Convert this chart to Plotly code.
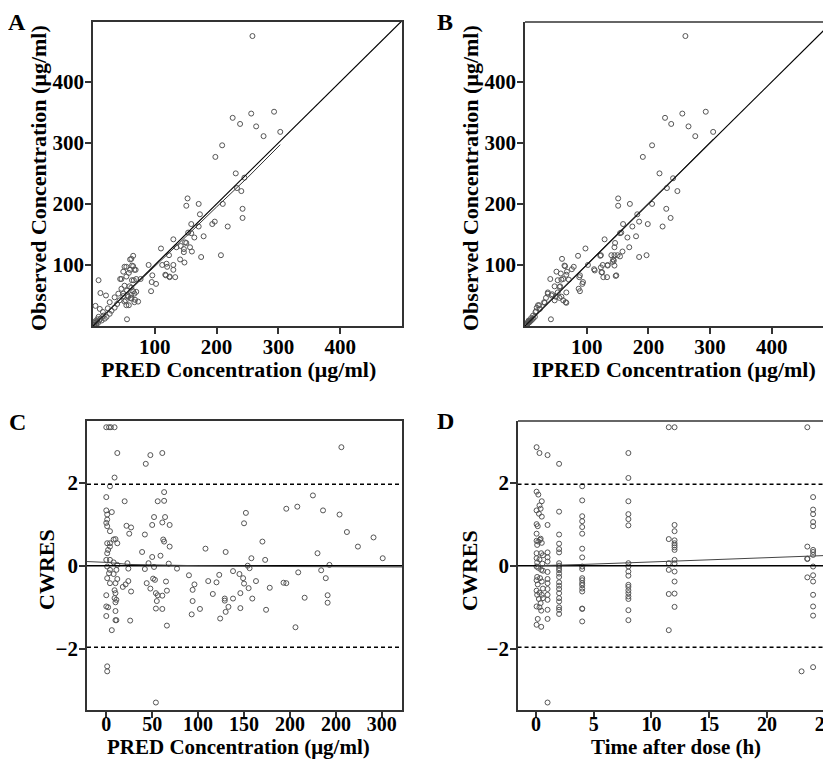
import plotly.graph_objects as go

# page has an 8px body margin, so the figure is drawn 8px in from the top-left
OFF = 8
FW, FH = 831 - OFF, 759 - OFF

# ---- panel A : observed vs PRED
pred_a = [258, 293, 256, 226, 238, 264, 303, 276, 209, 198, 231, 245, 233, 240, 153, 171, 210, 151, 242, 173,
          242, 197, 159, 193, 218, 171, 154, 159, 179, 164, 130, 151, 157, 135, 147, 160, 175, 207, 110, 123,
          141, 148, 90, 112, 130, 120, 96, 130, 117, 124, 133, 95, 102, 94, 142, 147, 149, 119, 124, 118,
          65, 62, 60, 54, 65, 63, 51, 67, 60, 69, 49, 58, 46, 54, 44, 63, 66, 70, 77, 51,
          59, 62, 46, 55, 65, 70, 67, 41, 49, 56, 35, 49, 57, 61, 43, 53, 68, 67, 51, 73,
          54, 58, 9, 12, 21, 4, 27, 24, 55, 62, 62, 39, 11, 16, 27, 22, 30, 35, 19,
          2, 3, 5, 6, 8, 10, 4, 7, 12, 14, 9, 17, 1]
obs_a = [475, 351, 348, 341, 331, 327, 318, 311, 296, 277, 250, 243, 226, 221, 209, 200, 200, 197, 192, 183,
         177, 171, 167, 167, 163, 163, 153, 152, 147, 145, 142, 136, 129, 129, 121, 122, 113, 116, 127, 116,
         109, 104, 100, 100, 100, 97, 83, 92, 84, 80, 80, 72, 69, 57, 131, 126, 137, 102, 81, 83,
         115, 110, 109, 97, 98, 99, 97, 92, 92, 92, 89, 87, 77, 81, 77, 75, 75, 77, 77, 66,
         65, 63, 61, 58, 57, 56, 53, 53, 53, 50, 47, 49, 48, 46, 42, 42, 43, 39, 40, 40,
         34, 34, 75, 54, 50, 33, 39, 29, 11, 51, 45, 36, 28, 23, 20, 15, 25, 30, 12,
         2, 5, 3, 7, 5, 9, 8, 11, 12, 9, 15, 17, 1]
smooth_a_x = [2, 50, 100, 150, 200, 250, 303]
smooth_a_y = [3, 49, 97, 146, 195, 243, 297]

# ---- panel B : observed vs IPRED
ipred_b = [260, 293, 255, 227, 237, 265, 305, 276, 206, 191, 218, 240, 230, 247, 151, 170, 206, 151, 229, 182,
           236, 185, 159, 199, 223, 174, 156, 154, 180, 166, 129, 146, 169, 145, 98, 158, 145, 123, 197, 185,
           144, 145, 102, 126, 134, 113, 125, 148, 147, 133, 86, 89, 93, 89, 60, 64, 79, 51, 68, 41,
           59, 71, 88, 57, 48, 67, 53, 37, 43, 59, 48, 62, 67, 32, 42, 21, 24, 18, 13, 8,
           5, 65, 76, 58, 67, 53, 62, 94, 87, 56, 37, 44, 66, 50, 56, 34, 31, 23, 19, 17,
           112, 123, 124, 134, 127, 140, 143, 142, 150, 154, 122,
           2, 3, 5, 7, 9, 11, 6, 4, 13, 10, 16, 1]
obs_b = [475, 351, 348, 341, 331, 327, 318, 311, 296, 277, 250, 242, 226, 221, 209, 200, 200, 197, 192, 183,
         177, 171, 167, 167, 163, 163, 153, 152, 147, 145, 142, 136, 129, 129, 127, 122, 116, 116, 116, 113,
         107, 99, 100, 100, 100, 91, 88, 83, 82, 80, 115, 83, 69, 57, 110, 99, 97, 89, 89, 77,
         76, 76, 80, 65, 65, 55, 55, 53, 50, 48, 42, 42, 38, 38, 11, 34, 28, 24, 17, 9,
         7, 98, 93, 86, 84, 75, 77, 72, 61, 64, 55, 52, 39, 48, 46, 46, 39, 34, 30, 23,
         93, 96, 88, 99, 80, 116, 109, 105, 116, 114, 115,
         2, 4, 5, 6, 8, 10, 9, 3, 12, 13, 15, 1]
smooth_b_x = [2, 100, 200, 305]
smooth_b_y = [3, 101, 201, 306]

# ---- panel C : CWRES vs PRED
pred_c = [0, 3, 5, 9, 12, 43, 48, 61, 256, 9, 4, 0, 20, 56, 63, 63, 225, 0, 1, 6,
          1, 0, 1, 4, 22, 27, 25, 42, 52, 50, 61, 64, 69, 196, 208, 236, 254, 152, 150, 262,
          274, 291, 301, 170, 230, 108, 130, 173, 158, 243, 234, 239, 209, 193, 196, 216, 241, 241, 206, 163,
          178, 159, 155, 150, 149, 145, 138, 154, 156, 146, 138, 129, 129, 133, 130, 124, 146, 174, 123, 116,
          120, 111, 96, 94, 90, 94, 102, 93, 77, 68, 69, 62, 63, 59, 50, 39, 42, 46, 52, 51,
          44, 48, 53, 54, 56, 55, 61, 65, 66, 54, 61, 66, 54, 23, 24, 24, 21, 18, 27, 26,
          1, 1, 0, 0, 0, 2, 6, 10, 10, 11, 9, 10, 9, 11, 10, 4, 1, 3, 8, 11,
          12, 8, 4, 1, 2, 4, 4, 8, 10, 12, 1, 12, 10, 1, 0, 4]
cwres_c = [3.33, 3.33, 3.33, 3.33, 2.71, 2.45, 2.66, 2.71, 2.85, 2.12, 1.91, 1.65, 1.55, 1.55, 1.56, 1.77, 1.69, 1.33, 1.23, 1.29,
           1.11, 1.03, 0.95, 0.83, 0.96, 0.92, 0.77, 0.75, 1.17, 0.98, 1.04, 1.17, 0.98, 1.37, 1.42, 1.33, 1.23, 1.27, 1.02, 0.81,
           0.46, 0.68, 0.18, 0.58, 0.30, 0.41, 0.33, 0.14, 0.18, 0.02, -0.11, -0.30, -0.16, -0.41, -0.42, -0.77, -0.71, -0.89, -1.48, -0.37,
           -0.53, -0.79, -0.54, -0.43, -0.30, -0.20, -0.13, 0.0, -0.06, -0.66, -0.79, -0.79, -0.84, -0.99, -1.11, -1.27, -1.02, -1.06, -0.22, -0.68,
           -0.40, -0.37, -0.45, -0.58, -0.23, -0.85, -1.04, -1.17, -0.07, 0.05, 0.46, 0.63, 0.58, 0.24, 0.21, 0.33, -0.08, 0.06, -0.03, -0.31,
           -0.42, -0.55, -0.34, -0.66, -0.71, -0.85, -0.72, -0.38, -0.60, -1.03, -1.04, -1.44, -3.29, 0.06, -0.07, -0.37, -0.45, -0.51, -0.62, -1.32,
           -2.42, -2.54, -0.98, -1.21, -0.71, -1.0, -1.55, -1.09, -1.31, -1.31, -0.59, -0.66, -0.78, -0.82, -0.88, -0.42, -0.30, -0.18, -0.20, -0.10,
           0.02, 0.08, 0.14, 0.30, 0.38, 0.46, 0.54, 0.63, 0.64, 0.54, 0.54, -0.32, -0.42, -0.02, 0.14, -0.10]
smooth_c_x = [-21, 0, 25, 60, 100, 200, 322]
smooth_c_y = [0.10, 0.08, 0.03, 0.01, 0.0, -0.02, -0.03]

# ---- panel D : CWRES vs time after dose
time_d = [0.05, 0.3, 1.0, 2.0, 1.0,
          0.05, 0.2, 0.5, 0.3, 0.05, 0.4, 0.25, 0.5, 0.05, 0.15, 1.0, 0.05, 0.4, 0.05, 0.2,
          0.35, 0.1, 0.5, 0.05, 0.45, 0.6, 1.0, 0.05, 0.3, 1.0, 0.1, 0.55, 1.0, 0.05, 0.2,
          0.45, 0.6, 1.0, 0.1, 0.35, 1.0, 0.05, 0.5, 1.0, 0.15, 0.6, 1.0, 0.05, 0.3, 0.5,
          1.0, 0.1, 0.25, 0.6, 1.0, 0.4, 0.05, 0.3, 1.0, 0.45, 0.15, 1.0, 0.05, 0.45,
          2, 2, 2, 2, 2, 2, 2, 2, 2, 2, 2, 2, 2, 2, 2, 2, 2, 2, 2, 2,
          4, 4, 4, 4, 4, 4, 4, 4, 4, 4, 4, 4, 4, 4, 4, 4, 4, 4, 4,
          8, 8, 8, 8, 8, 8, 8, 8, 8, 8, 8, 8, 8, 8, 8, 8, 8, 8,
          11.5, 11.5, 11.5, 11.5, 11.5, 11.5,
          12, 12, 12, 12, 12, 12, 12, 12, 12, 12, 12, 12, 12, 12,
          23, 23.5, 23.5, 23.5, 23.5, 23.5,
          24, 24, 24, 24, 24, 24, 24, 24, 24, 24, 24, 24, 24, 24, 24]
cwres_d = [2.85, 2.71, 2.66, 2.45, -3.29,
           1.78, 1.71, 1.55, 1.45, 1.33, 1.37, 1.25, 1.18, 1.0, 0.95, 0.98, 0.77, 0.65, 0.6, 0.58,
           0.62, 0.5, 0.55, 0.3, 0.3, 0.25, 0.32, 0.18, 0.15, 0.2, 0.08, 0.05, 0.1, -0.02, -0.05,
           -0.1, -0.12, -0.15, -0.27, -0.3, -0.32, -0.35, -0.38, -0.42, -0.45, -0.55, -0.56, -0.6, -0.65, -0.7,
           -0.7, -0.7, -0.8, -0.78, -0.82, -0.9, -0.98, -1.0, -1.06, -1.08, -1.28, -1.28, -1.42, -1.47,
           1.30, 0.75, 0.53, 0.40, 0.32, 0.06, 0.0, -0.06, -0.11, -0.19, -0.27, -0.40, -0.48, -0.56, -0.66, -0.78, -0.86, -1.0, -1.06, -1.16,
           1.91, 1.57, 1.19, 1.07, 0.93, 0.77, 0.41, 0.20, -0.02, -0.08, -0.30, -0.35, -0.42, -0.47, -0.55, -0.62, -1.03, -1.04, -1.34,
           2.71, 2.11, 1.55, 1.24, 1.12, 0.97, 0.06, -0.02, -0.14, -0.24, -0.46, -0.51, -0.59, -0.66, -0.74, -0.80, -1.07, -1.31,
           3.33, 0.64, 0.06, -0.10, -0.68, -1.55,
           3.33, 0.98, 0.83, 0.61, 0.54, 0.49, 0.44, 0.38, 0.14, 0.05, -0.14, -0.38, -0.67, -0.99,
           -2.54, 3.33, 0.46, 0.17, 0.16, -0.28,
           1.65, 1.35, 1.24, 1.05, 0.95, 0.38, 0.33, 0.26, -0.02, -0.23, -0.38, -0.70, -0.98, -1.20, -2.44]
smooth_d_x = [0, 2, 4, 8, 12, 24, 25.6]
smooth_d_y = [0.0, 0.01, 0.03, 0.07, 0.11, 0.23, 0.25]

conc_ticks = [100, 200, 300, 400]
c_tickvals = [0, 50, 100, 150, 200, 250, 300]
c_ticktext = ["0", "50", "100", "150", "200", "200", "300"]
d_tickvals = [0, 5, 10, 15, 20, 25]
cwres_ticks = [-2, 0, 2]

FONT = "Liberation Serif, Times New Roman, serif"
mk = dict(symbol="circle-open", size=5, color="#555", line=dict(width=1, color="#555"))

fig = go.Figure()


def pts(x, y, n):
    fig.add_trace(go.Scatter(x=x, y=y, mode="markers", marker=mk, xaxis="x" + n, yaxis="y" + n,
                             showlegend=False, hoverinfo="skip"))


def line(x, y, n, color="black", width=1.2, dash="solid"):
    fig.add_trace(go.Scatter(x=x, y=y, mode="lines", line=dict(color=color, width=width, dash=dash),
                             xaxis="x" + n, yaxis="y" + n, showlegend=False, hoverinfo="skip"))


# A
pts(pred_a, obs_a, "")
line([0, 500], [0, 500], "")
line(smooth_a_x, smooth_a_y, "", color="#333", width=1)
# B
pts(ipred_b, obs_b, "2")
line([0, 500], [0, 500], "2")
line(smooth_b_x, smooth_b_y, "2", color="#333", width=1)
# C
pts(pred_c, cwres_c, "3")
line([-21, 322], [0, 0], "3", width=1.5)
line(smooth_c_x, smooth_c_y, "3", color="#444", width=1)
line([-21, 322], [1.96, 1.96], "3", width=1.4, dash="4px,3px")
line([-21, 322], [-1.96, -1.96], "3", width=1.4, dash="4px,3px")
# D
pts(time_d, cwres_d, "4")
line([-1.6, 26], [0, 0], "4", width=1.5)
line(smooth_d_x, smooth_d_y, "4", color="#444", width=1)
line([-1.6, 26], [1.96, 1.96], "4", width=1.4, dash="4px,3px")
line([-1.6, 26], [-1.96, -1.96], "4", width=1.4, dash="4px,3px")

xa = lambda p: (p - OFF) / FW
ya = lambda p: 1 - (p - OFF) / FH


def ax(d0, d1, rng, tickvals, anchor, ticktext=None, mirror=True, standoff=0, fs=21):
    a = dict(domain=[d0, d1], range=rng, tickvals=tickvals, anchor=anchor, showgrid=False,
             zeroline=False, showline=True, linecolor="#333", linewidth=1.5, mirror=mirror,
             ticks="outside", ticklen=6, tickwidth=1.5, tickcolor="#333",
             tickfont=dict(family=FONT, size=fs, color="black", weight="bold"),
             ticklabeloverflow="allow", ticklabelstandoff=standoff, automargin=False)
    if ticktext is not None:
        a["ticktext"] = ticktext
    return a


fig.update_layout(
    width=FW, height=FH, margin=dict(l=0, r=0, t=0, b=0),
    plot_bgcolor="white", paper_bgcolor="white",
    xaxis=ax(xa(93), xa(402), [0, 500], conc_ticks, "y", standoff=-5),
    yaxis=ax(ya(326), ya(22), [0, 498], conc_ticks, "x", standoff=-3),
    xaxis2=ax(xa(525), 1.0, [0, 496], conc_ticks, "y2", mirror=False, standoff=-5),
    yaxis2=ax(ya(326), ya(22), [0, 498], conc_ticks, "x2", mirror=False, standoff=-3),
    xaxis3=ax(xa(87), xa(402), [-21, 322], c_tickvals, "y3", c_ticktext, standoff=-11, fs=20),
    yaxis3=ax(ya(710), ya(421), [-3.47, 3.48], cwres_ticks, "x3", standoff=-3),
    xaxis4=ax(xa(518), 1.0, [-1.56, 25.55], d_tickvals, "y4", mirror=False, standoff=-11, fs=20),
    yaxis4=ax(ya(710), ya(421), [-3.47, 3.48], cwres_ticks, "x4", mirror=False, standoff=-3),
)

# top border for the right-hand panels (their right edge is cut off)
for n in ["2", "4"]:
    fig.add_shape(type="line", xref="x%s domain" % n, yref="y%s domain" % n,
                  x0=0, x1=1, y0=1, y1=1, line=dict(color="#333", width=1.5))


def txt(s, x, y, size=22, angle=0):
    fig.add_annotation(text=s, x=xa(x), y=ya(y), xref="paper", yref="paper", showarrow=False,
                       textangle=angle, xanchor="center", yanchor="middle",
                       font=dict(family=FONT, size=size, color="black", weight="bold"))


txt("A", 17, 22, 24)
txt("B", 445, 22, 24)
txt("C", 17, 422, 24)
txt("D", 445, 421, 24)
txt("Observed Concentration (μg/ml)", 38, 178, angle=-90)
txt("Observed Concentration (μg/ml)", 470, 178, angle=-90)
txt("CWRES", 46, 570, angle=-90)
txt("CWRES", 469, 570, angle=-90)
txt("PRED Concentration (μg/ml)", 238, 369)
txt("IPRED Concentration (μg/ml)", 674, 369)
txt("PRED Concentration (μg/ml)", 238, 747, 21)
txt("Time after dose (h)", 676, 747, 21)

fig.write_html("out.html")
